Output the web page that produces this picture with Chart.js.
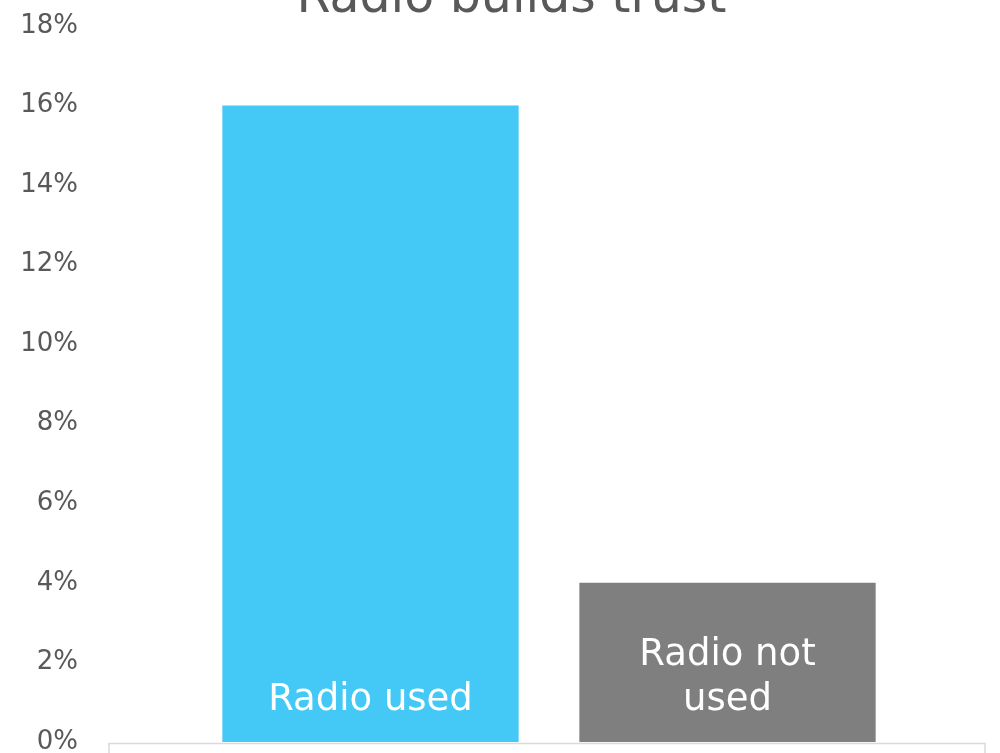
<!DOCTYPE html>
<html>
<head>
<meta charset="utf-8">
<script src="https://cdn.jsdelivr.net/npm/chart.js@4"></script>
<style>
    html, body { margin: 0; padding: 0; background: #fff; overflow: hidden; }
    #frame { width: 1000px; height: 753px; overflow: hidden; position: relative; }
    #wrap { position: absolute; left: 0; top: -40px; width: 1000px; height: 813px; }
</style>
</head>
<body>
<div id="frame"><div id="wrap"><canvas id="chart"></canvas></div></div>
<script>
/* Radio builds trust — two bars, labels sit inside the bars. */

const CATEGORIES = [['Radio used'], ['Radio not', 'used']];
const VALUES = [16, 4];
const BAR_COLOURS = ['#44c8f5', '#7f7f7f'];
const Y_MIN = 0, Y_MAX = 18, Y_STEP = 2;

const FONT = '"DejaVu Sans", sans-serif';
const INK = '#595959';

// white category names stacked from the bottom of each bar
const barLabels = {
    id: 'barLabels',
    afterDatasetsDraw(chart) {
        const { ctx, chartArea } = chart;
        const bars = chart.getDatasetMeta(0).data;
        ctx.save();
        ctx.fillStyle = '#fff';
        ctx.font = '37px ' + FONT;
        ctx.textAlign = 'center';
        ctx.textBaseline = 'alphabetic';
        bars.forEach((bar, i) => {
            const lines = CATEGORIES[i];
            lines.forEach((line, j) => {
                const y = chartArea.bottom - 32 - (lines.length - 1 - j) * 45;
                ctx.fillText(line, bar.x, y);
            });
        });
        ctx.restore();
    },
};

// the thin grey frame peeking in under the plot
const baseFrame = {
    id: 'baseFrame',
    afterDraw(chart) {
        const { ctx, chartArea, height } = chart;
        const top = chartArea.bottom + 1.5;
        ctx.save();
        ctx.strokeStyle = '#d9d9d9';
        ctx.lineWidth = 1.5;
        ctx.beginPath();
        ctx.moveTo(109, height);
        ctx.lineTo(109, top);
        ctx.lineTo(985, top);
        ctx.lineTo(985, height);
        ctx.stroke();
        ctx.restore();
    },
};

// empty axes that only hold space either side of the plot
const spacer = (position, width) => ({
    type: 'linear', position, weight: 0,
    grid: { display: false, drawTicks: false }, border: { display: false },
    ticks: { display: false },
    afterFit: (s) => { s.width = width; },
});

new Chart(document.getElementById('chart'), {
    type: 'bar',
    data: {
        labels: CATEGORIES,
        datasets: [{
            data: VALUES,
            backgroundColor: BAR_COLOURS,
            borderWidth: 0,
            categoryPercentage: 1,
            barPercentage: 0.83,
        }],
    },
    options: {
        responsive: true, maintainAspectRatio: false, animation: false,
        layout: { padding: { left: 23, right: 0, top: 0, bottom: 31 } },
        plugins: {
            legend: { display: false },
            tooltip: { enabled: false },
            title: {
                display: true, text: 'Radio builds trust', color: INK,
                font: { family: FONT, size: 49, weight: 'normal', lineHeight: 1.1 },
                padding: { top: 12, bottom: 0 },
            },
        },
        scales: {
            x: { display: false },
            y: {
                min: Y_MIN, max: Y_MAX, weight: 1,
                grid: { display: false, drawTicks: false },
                border: { display: false },
                ticks: {
                    stepSize: Y_STEP, padding: 0, color: INK,
                    font: { family: FONT, size: 26 },
                    callback: (v) => v + '%',
                },
                afterFit: (s) => { s.width = 55; },
            },
            gapL: spacer('left', 114),
            gapR: spacer('right', 94),
        },
    },
    plugins: [barLabels, baseFrame],
});
</script>
</body>
</html>
